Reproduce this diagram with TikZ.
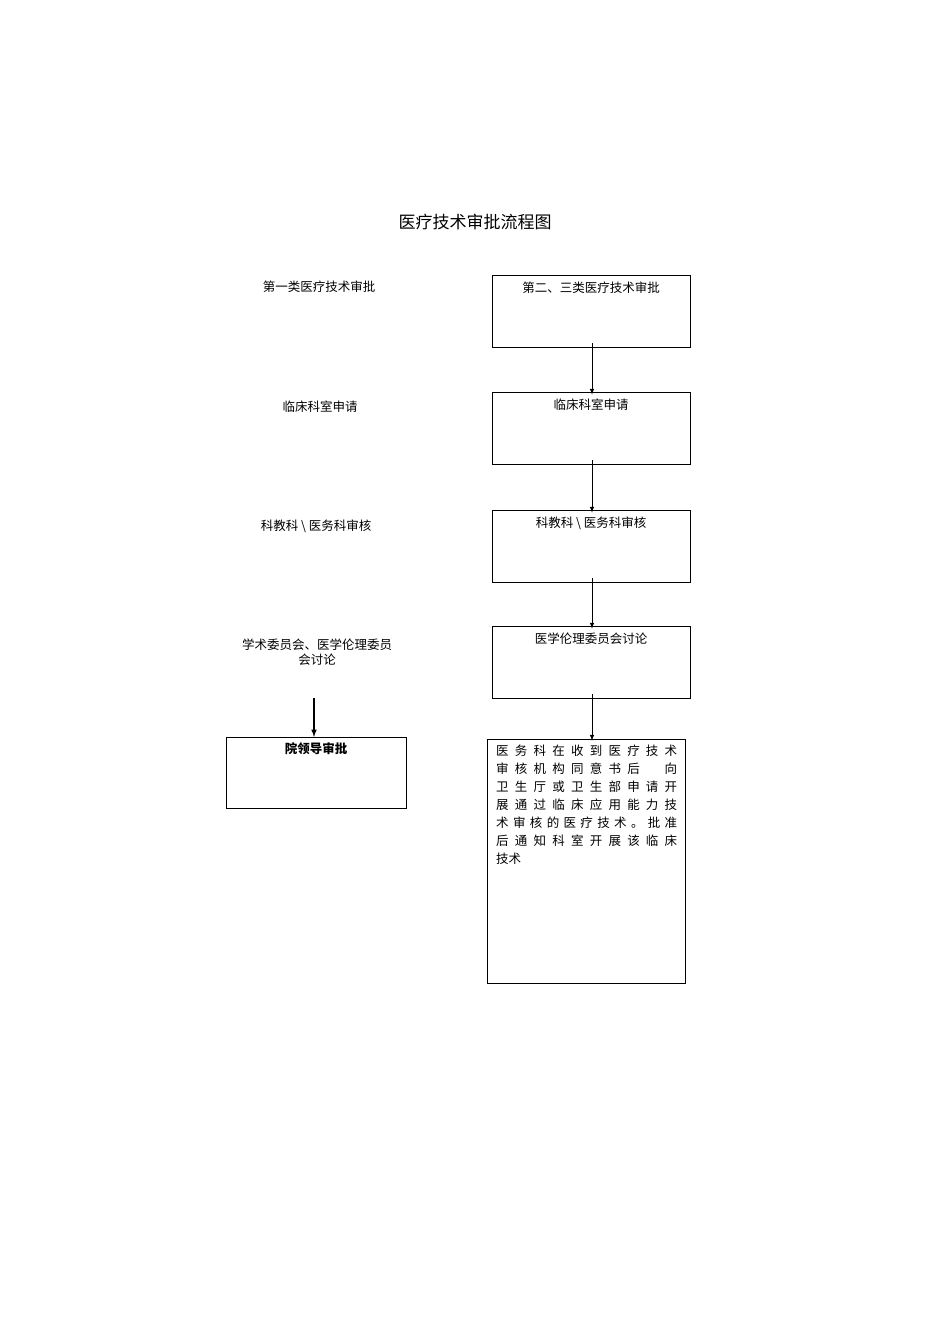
\documentclass[tikz,border=0pt]{standalone}
\usepackage{fontspec}
\setmainfont{Noto Sans CJK SC}
\newcommand{\jline}[1]{\makebox[181pt][s]{#1}}
\begin{document}
\begin{tikzpicture}[x=1pt,y=-1pt,
  box/.style={draw,line width=0.6pt},
  lbl/.style={font=\fontsize{12.5}{15}\selectfont,align=center,inner sep=0pt},
  arr/.style={-latex,line width=1pt}]
\useasboundingbox (0,0) rectangle (950,1344);
\node[font=\fontsize{17}{20}\selectfont] (title) at (475,222) {医疗技术审批流程图};
% left column
\node[lbl] (l1) at (319,287) {第一类医疗技术审批};
\node[lbl] (l2) at (320,407) {临床科室申请};
\node[lbl] (l3) at (316,526) {科教科 \textbackslash{} 医务科审核};
\node[lbl] (l4) at (317,652) {学术委员会、医学伦理委员\\会讨论};
\draw[box] (226,737) rectangle (406,808);
\node[lbl,font=\fontsize{12.5}{15}\selectfont\bfseries] (lb) at (316,749) {院领导审批};
\coordinate (la) at (314,698);
\coordinate (lbtop) at (314,737);
\draw[arr,line width=1.5pt] (la) -- (lbtop);
% right column
\foreach \n/\y/\t in {r1/275/第二、三类医疗技术审批, r2/392/临床科室申请, r3/510/科教科 \textbackslash{} 医务科审核, r4/626/医学伦理委员会讨论}{
  \node[box,minimum width=198pt,minimum height=72pt,inner sep=0pt] (\n) at (591,\y+36) {};
  \node[lbl] at (591,\y+13) {\t};
}
\node[box,minimum width=198pt,minimum height=244pt,inner sep=0pt] (r5) at (586,861) {};
\node[anchor=north west,inner sep=0pt,font=\fontsize{12.5}{18}\selectfont,align=left] (r5t) at (496,745) {%
\jline{医 务 科 在 收 到 医 疗 技 术}\\
\jline{审 核 机 构 同 意 书 后 \phantom{向} 向}\\
\jline{卫 生 厅 或 卫 生 部 申 请 开}\\
\jline{展 通 过 临 床 应 用 能 力 技}\\
\jline{术 审 核 的 医 疗 技 术 。 批 准}\\
\jline{后 通 知 科 室 开 展 该 临 床}\\
技术};
\draw[arr] ([yshift=4pt]r1.south -| 592,0) -- ([yshift=-3pt]r2.north -| 592,0);
\draw[arr] ([yshift=4pt]r2.south -| 592,0) -- ([yshift=-3pt]r3.north -| 592,0);
\draw[arr] ([yshift=4pt]r3.south -| 592,0) -- ([yshift=-3pt]r4.north -| 592,0);
\draw[arr] ([yshift=4pt]r4.south -| 592,0) -- ([yshift=-2pt]r5.north -| 592,0);
\end{tikzpicture}
\end{document}
